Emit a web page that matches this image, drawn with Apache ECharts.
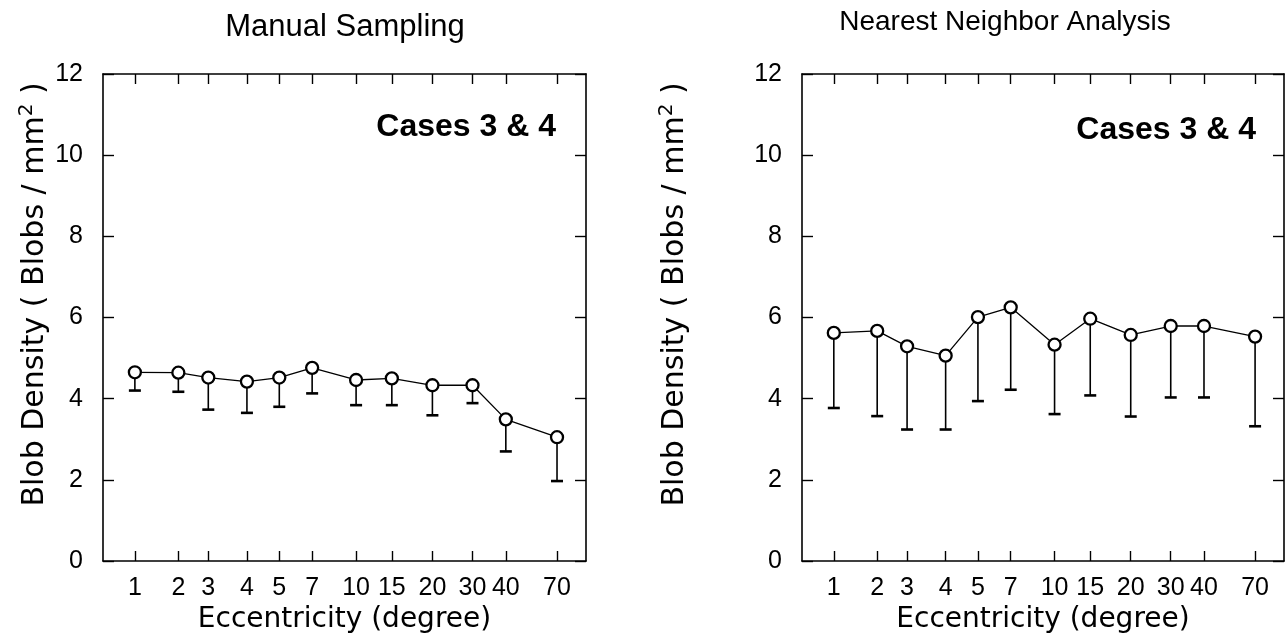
<!DOCTYPE html>
<html>
<head>
<meta charset="utf-8">
<script src="https://cdn.jsdelivr.net/npm/echarts@6/dist/echarts.min.js"></script>
<style>
  html, body { margin: 0; padding: 0; background: #fff; }
  #chart { width: 1286px; height: 639px; }
</style>
</head>
<body>
<div id="chart"></div>
<script>
// 偏心度刻度（位置在坐标轴上不是等距的，按图读出）
var eccLabels = ['1', '2', '3', '4', '5', '7', '10', '15', '20', '30', '40', '70'];
var eccPos = [6.6, 15.6, 21.8, 29.8, 36.5, 43.3, 52.4, 59.8, 68.2, 76.5, 83.4, 94.0];

// Manual Sampling
var manualMean = [4.65, 4.64, 4.52, 4.42, 4.52, 4.76, 4.46, 4.50, 4.33, 4.33, 3.49, 3.05];
var manualLow = [4.20, 4.17, 3.73, 3.65, 3.80, 4.13, 3.84, 3.84, 3.59, 3.89, 2.70, 1.97];

// Nearest Neighbor Analysis
var nnaMean = [5.62, 5.67, 5.29, 5.06, 6.01, 6.25, 5.33, 5.97, 5.57, 5.79, 5.79, 5.53];
var nnaLow = [3.77, 3.57, 3.24, 3.24, 3.94, 4.22, 3.62, 4.08, 3.56, 4.03, 4.03, 3.32];

var panelTitles = ['Manual Sampling', 'Nearest Neighbor Analysis'];
var caseLabel = 'Cases 3 & 4';

var myChart = echarts.init(document.getElementById('chart'));

var tickFont = 'Liberation Sans, Arial, sans-serif';
var nameFont = 'DejaVu Sans, sans-serif';

function pairs(mean) {
    return mean.map(function (v, i) { return [eccPos[i], v]; });
}
function errData(mean, low) {
    return mean.map(function (v, i) { return [eccPos[i], v, low[i]]; });
}

// 误差线（只画下半部分）
function renderErr(params, api) {
    var top = api.coord([api.value(0), api.value(1)]);
    var bot = api.coord([api.value(0), api.value(2)]);
    return {
        type: 'group',
        children: [
            { type: 'line', shape: { x1: top[0], y1: top[1], x2: bot[0], y2: bot[1] },
              style: { stroke: '#000', lineWidth: 1.6 } },
            { type: 'line', shape: { x1: bot[0] - 6, y1: bot[1], x2: bot[0] + 6, y2: bot[1] },
              style: { stroke: '#000', lineWidth: 2.6 } }
        ]
    };
}

function xAxes(gridIndex) {
    var common = {
        type: 'value',
        gridIndex: gridIndex,
        min: 0,
        max: 100,
        splitLine: { show: false },
        axisLine: { show: true, onZero: false, lineStyle: { color: '#000', width: 1.6 } },
        axisTick: { show: true, inside: true, length: 10, customValues: eccPos, lineStyle: { color: '#000', width: 1.4 } }
    };
    return [
        Object.assign({}, common, {
            position: 'bottom',
            name: 'Eccentricity (degree)',
            nameLocation: 'middle',
            nameGap: 38,
            nameTextStyle: { color: '#000', fontSize: 28, fontFamily: nameFont },
            axisLabel: {
                customValues: eccPos,
                margin: 15,
                color: '#000',
                fontSize: 25,
                fontFamily: tickFont,
                formatter: function (v) {
                    var i = eccPos.indexOf(v);
                    return i < 0 ? '' : eccLabels[i];
                }
            }
        }),
        Object.assign({}, common, { position: 'top', axisLabel: { show: false } })
    ];
}

function yAxes(gridIndex, nameGap) {
    var common = {
        type: 'value',
        gridIndex: gridIndex,
        min: 0,
        max: 12,
        interval: 2,
        splitLine: { show: false },
        axisLine: { show: true, onZero: false, lineStyle: { color: '#000', width: 1.6 } },
        axisTick: { show: true, inside: true, length: 11, lineStyle: { color: '#000', width: 1.4 } }
    };
    return [
        Object.assign({}, common, {
            position: 'left',
            name: 'Blob Density ( Blobs / mm{sup|2} )',
            nameLocation: 'middle',
            nameGap: nameGap,
            nameTextStyle: {
                color: '#000', fontSize: 30, fontFamily: nameFont,
                padding: [0, 0, 0, 46],
                rich: { sup: { fontSize: 20, fontFamily: nameFont, color: '#000', padding: [0, 0, 16, 0] } }
            },
            axisLabel: { margin: 20, color: '#000', fontSize: 25, fontFamily: tickFont }
        }),
        Object.assign({}, common, { position: 'right', axisLabel: { show: false } })
    ];
}

var xs = xAxes(0).concat(xAxes(1));
var ys = yAxes(0, 50).concat(yAxes(1, 109));

function panelSeries(mean, low, xi, yi) {
    return [
        {
            type: 'custom',
            xAxisIndex: xi,
            yAxisIndex: yi,
            z: 1,
            renderItem: renderErr,
            data: errData(mean, low)
        },
        {
            type: 'line',
            xAxisIndex: xi,
            yAxisIndex: yi,
            z: 3,
            data: pairs(mean),
            symbol: 'circle',
            symbolSize: 12,
            itemStyle: { color: '#fff', borderColor: '#000', borderWidth: 2.3 },
            lineStyle: { color: '#000', width: 1.3 },
            emphasis: { disabled: true }
        }
    ];
}

option = {
    animation: false,
    backgroundColor: '#fff',
    grid: [
        { left: 103, top: 74, width: 483, height: 487 },
        { left: 802, top: 74, width: 482, height: 487 }
    ],
    xAxis: xs,
    yAxis: ys,
    graphic: [
        { type: 'text', x: 345, y: 27, style: { text: panelTitles[0], font: '31px Liberation Sans', fill: '#000', textAlign: 'center', textVerticalAlign: 'middle' } },
        { type: 'text', x: 1005, y: 22, style: { text: panelTitles[1], font: '28px Liberation Sans', fill: '#000', textAlign: 'center', textVerticalAlign: 'middle' } },
        { type: 'text', x: 556, y: 127, style: { text: caseLabel, font: 'bold 32px Liberation Sans', fill: '#000', textAlign: 'right', textVerticalAlign: 'middle' } },
        { type: 'text', x: 1256, y: 130, style: { text: caseLabel, font: 'bold 32px Liberation Sans', fill: '#000', textAlign: 'right', textVerticalAlign: 'middle' } }
    ],
    series: panelSeries(manualMean, manualLow, 0, 0).concat(panelSeries(nnaMean, nnaLow, 2, 2))
};

myChart.setOption(option);
</script>
</body>
</html>
